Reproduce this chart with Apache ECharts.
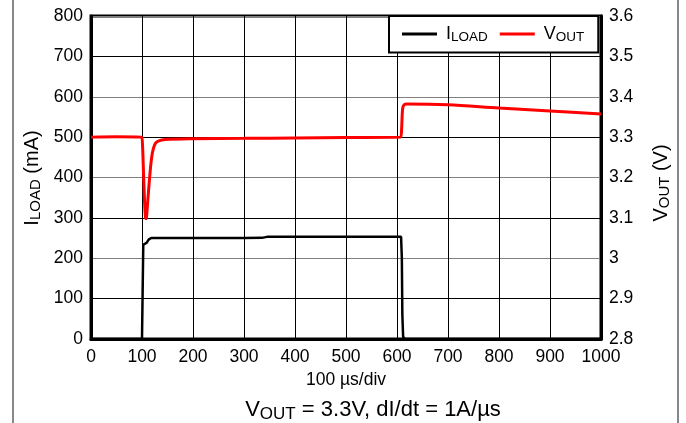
<!DOCTYPE html>
<html><head><meta charset="utf-8">
<script src="https://cdn.jsdelivr.net/npm/echarts@6/dist/echarts.min.js"></script>
<style>html,body{margin:0;padding:0;background:#fff}#c{width:686px;height:423px}</style>
</head><body><div id="c"></div>
<script>
// x in µs, I_LOAD in mA
const iLoad = [[0,0],[100,0],[101.5,0],[102.5,234],[106,236],[109,238],[113,246],[118,250],[200,250],[300,250],[335,250.5],[345,253],[500,253],[608,253],[609.5,200],[610.5,60],[612,6],[615,0],[1000,0]];
// V_OUT in V
const vOut = [[0,3.300],[50,3.301],[99,3.300],[101,3.28],[103,3.21],[105,3.14],[107,3.100],[108.5,3.098],[110,3.12],[113,3.17],[116,3.215],[119,3.25],[122,3.27],[126,3.284],[132,3.290],[145,3.294],[200,3.296],[300,3.297],[400,3.298],[500,3.299],[607,3.300],[609,3.32],[611,3.37],[614,3.380],[620,3.382],[700,3.380],[800,3.372],[900,3.365],[1000,3.357]];
const xTicks = {min:0, max:1000, interval:100};
const yLeft = {min:0, max:800, interval:100};
const yRight = {min:2.8, max:3.6, interval:0.1};

const F = 'Liberation Sans, Arial, sans-serif';
const chart = echarts.init(document.getElementById('c'), null, {renderer:'canvas'});
const legRich = {
  m:{fontFamily:F,fontSize:18,color:'#000'},
  s:{fontFamily:F,fontSize:13.5,color:'#000',padding:[7,0,0,0]}
};
const titleRich = {
  m:{fontFamily:F,fontSize:20,color:'#000'},
  s:{fontFamily:F,fontSize:15,color:'#000',padding:[8,0,0,0]}
};
const lbl = {color:'#000',fontFamily:F,fontSize:17.5};
chart.setOption({
  animation:false,
  backgroundColor:'#fff',
  grid:{left:91,right:85,top:16,bottom:84,show:true,borderColor:'#000',borderWidth:3,backgroundColor:'transparent'},
  legend:{
    left:389, top:16, padding:[9,14,8,13], itemGap:12, itemWidth:35, itemHeight:3,
    backgroundColor:'#fff', borderColor:'#000', borderWidth:2, z:10,
    icon:'rect',
    data:['ILOAD','VOUT'],
    formatter:function(n){return n==='ILOAD'?'{m|I}{s|LOAD}':'{m|V}{s|OUT}';},
    textStyle:{rich:legRich, padding:[0,0,0,4]}
  },
  xAxis:{
    type:'value', min:xTicks.min, max:xTicks.max, interval:xTicks.interval,
    axisLine:{show:true,lineStyle:{color:'#000',width:3}},
    axisTick:{show:false},
    axisLabel:Object.assign({margin:9,formatter:function(v){return String(v);}},lbl),
    splitLine:{show:true,lineStyle:{color:'#000',width:1}}
  },
  yAxis:[{
    type:'value', min:yLeft.min, max:yLeft.max, interval:yLeft.interval,
    axisLine:{show:true,lineStyle:{color:'#000',width:3}},
    axisTick:{show:false},
    axisLabel:Object.assign({margin:8,formatter:function(v){return String(v);}},lbl),
    splitLine:{show:true,lineStyle:{color:['#808080','#000'],width:1}}
  },{
    type:'value', min:yRight.min, max:yRight.max, interval:yRight.interval, position:'right',
    axisLine:{show:true,lineStyle:{color:'#000',width:3}},
    axisTick:{show:false},
    axisLabel:Object.assign({margin:8,formatter:function(v){return String(+v.toFixed(1));}},lbl),
    splitLine:{show:false}
  }],
  series:[{
    name:'ILOAD', type:'line', data:iLoad, yAxisIndex:0, showSymbol:false,
    lineStyle:{color:'#000',width:2.5}, itemStyle:{color:'#000'}, z:3
  },{
    name:'VOUT', type:'line', data:vOut, yAxisIndex:1, showSymbol:false, smooth:0.3,
    lineStyle:{color:'#ff0000',width:3}, itemStyle:{color:'#ff0000'}, z:4
  }],
  graphic:[
    {type:'line',shape:{x1:13,y1:0,x2:13,y2:423},style:{stroke:'#888',lineWidth:2}},
    {type:'line',shape:{x1:678,y1:0,x2:678,y2:423},style:{stroke:'#888',lineWidth:2}},
    {type:'text',x:32,y:178,rotation:Math.PI/2,style:{text:'{m|I}{s|LOAD}{m| (mA)}',rich:titleRich,align:'center',verticalAlign:'middle'}},
    {type:'text',x:661,y:183,rotation:Math.PI/2,style:{text:'{m|V}{s|OUT}{m| (V)}',rich:titleRich,align:'center',verticalAlign:'middle'}},
    {type:'text',x:346,y:380,style:{text:'100 \u00b5s/div',font:'17.5px '+F,fill:'#000',align:'center',verticalAlign:'middle'}},
    {type:'text',x:373,y:410,style:{text:'{b|V}{c|OUT}{b| = 3.3V, dI/dt = 1A/\u00b5s}',align:'center',verticalAlign:'middle',
      rich:{b:{fontFamily:F,fontSize:22,color:'#000'},c:{fontFamily:F,fontSize:17,color:'#000',padding:[9,0,0,0]}}}}
  ]
});
</script></body></html>
